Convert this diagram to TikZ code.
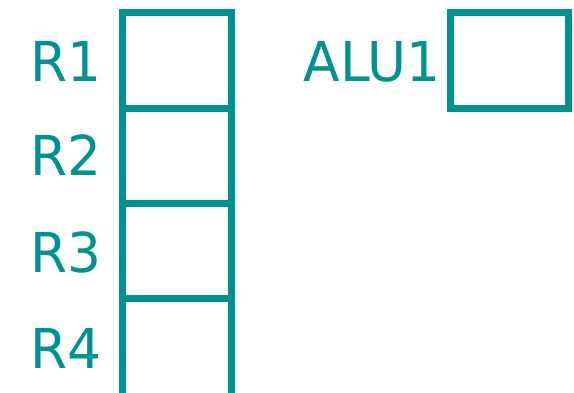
\documentclass[tikz,border=0pt]{standalone}
\usepackage{fontspec}
\setmainfont{DejaVu Sans}[FakeStretch=0.97]
\definecolor{teal}{RGB}{0,146,143}
\begin{document}
\begin{tikzpicture}[x=1pt,y=1pt,
  reg/.style={draw=teal,line width=7pt,inner sep=0pt,outer sep=0pt,minimum width=109pt},
  lbl/.style={text=teal,inner sep=0pt,font=\fontsize{55}{60}\selectfont,anchor=base west}]
\useasboundingbox (0,0) rectangle (574,392);
\clip (0,0) rectangle (574,392);
\node[reg,minimum height=96pt] (r1) at (177,331.5) {};
\node[reg,minimum height=95pt] (r2) at (177,236) {};
\node[reg,minimum height=95pt] (r3) at (177,141) {};
\node[reg,minimum height=98pt] (r4) at (177,44.5) {};
\node[reg,minimum width=118pt,minimum height=96pt] (alu) at (509.4,331.5) {};
\node[lbl] (l1) at (30,310) {R1};
\node[lbl] (l2) at (30,217) {R2};
\node[lbl] (l3) at (30,120) {R3};
\node[lbl] (l4) at (30,24) {R4};
\node[lbl] (la) at (303.5,310) {ALU1};
\end{tikzpicture}
\end{document}
